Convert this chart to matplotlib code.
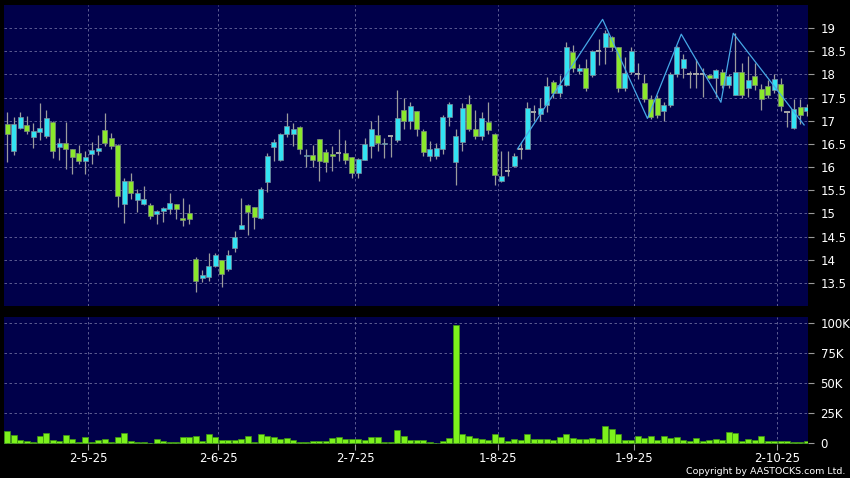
import matplotlib
matplotlib.use('Agg')
import matplotlib.pyplot as plt
import numpy as np

# daily OHLC (index 0 = first trading day shown)
opens = [16.92, 16.35, 16.85, 16.91, 16.65, 16.76, 16.67, 16.98, 16.44, 16.53,
         16.38, 16.31, 16.13, 16.29, 16.35, 16.80, 16.62, 16.47, 15.21, 15.69,
         15.29, 15.21, 15.18, 14.99, 15.05, 15.10, 15.21, 14.91, 15.00, 14.01,
         13.61, 13.62, 13.87, 14.00, 13.80, 14.26, 14.67, 15.18, 15.14, 14.89,
         15.67, 16.44, 16.15, 16.72, 16.72, 16.87, 16.23, 16.26, 16.60, 16.33,
         16.29, 16.31, 16.31, 16.21, 15.88, 16.15, 16.46, 16.69, 16.49, 16.67,
         16.59, 17.23, 17.00, 17.21, 16.77, 16.23, 16.24, 16.40, 17.09, 16.11,
         16.55, 17.36, 16.83, 16.67, 16.98, 16.71, 15.70, 15.92, 16.03, 16.40,
         16.40, 17.19, 17.15, 17.33, 17.84, 17.59, 17.77, 18.49, 18.07, 18.15,
         17.99, 18.51, 18.59, 18.80, 18.59, 17.70, 18.06, 18.02, 17.82, 17.46,
         17.50, 17.21, 17.34, 18.02, 18.14, 18.00, 18.00, 18.00, 17.99, 17.93,
         18.05, 17.77, 17.55, 18.05, 17.70, 17.96, 17.68, 17.75, 17.66, 17.80,
         17.19, 16.84, 17.30, 17.21]
highs = [17.19, 17.09, 17.20, 17.10, 16.96, 17.38, 17.23, 17.00, 16.62, 16.97,
         16.40, 16.47, 16.35, 16.54, 16.69, 17.16, 16.74, 16.50, 15.77, 15.87,
         15.52, 15.59, 15.23, 15.08, 15.14, 15.44, 15.21, 15.34, 15.20, 14.05,
         13.77, 14.15, 14.15, 14.00, 14.21, 14.62, 15.33, 15.20, 15.14, 15.58,
         16.31, 16.60, 16.74, 17.16, 16.96, 16.88, 16.40, 16.47, 16.60, 16.38,
         16.46, 16.82, 16.58, 16.21, 16.20, 16.62, 17.00, 17.12, 16.62, 16.67,
         17.66, 17.50, 17.41, 17.21, 16.82, 16.56, 16.51, 17.12, 17.41, 16.82,
         17.38, 17.55, 17.23, 17.18, 17.41, 16.74, 16.35, 16.35, 16.31, 16.53,
         17.41, 17.33, 17.50, 17.95, 17.88, 17.99, 18.71, 18.64, 18.22, 18.33,
         18.53, 18.76, 18.96, 18.82, 18.60, 18.38, 18.59, 18.24, 18.02, 17.55,
         17.55, 17.41, 18.05, 18.62, 18.44, 18.07, 18.34, 18.14, 18.00, 18.11,
         18.11, 18.00, 18.89, 18.25, 18.39, 18.25, 17.79, 17.89, 18.00, 17.93,
         17.21, 17.46, 17.46, 17.36]
lows = [16.10, 16.26, 16.83, 16.71, 16.41, 16.59, 16.62, 16.19, 16.15, 15.95,
        15.85, 16.06, 15.85, 16.06, 16.26, 16.46, 16.38, 15.14, 14.79, 15.31,
        15.03, 15.19, 14.87, 14.77, 14.82, 14.98, 14.87, 14.73, 14.78, 13.31,
        13.52, 13.54, 13.85, 13.40, 13.76, 14.17, 14.66, 14.54, 14.66, 14.87,
        15.46, 16.13, 16.13, 16.64, 16.46, 16.29, 16.00, 16.00, 15.70, 15.90,
        15.92, 16.13, 16.06, 15.77, 15.77, 16.15, 16.19, 16.35, 16.19, 16.22,
        16.54, 16.82, 16.82, 16.67, 16.23, 16.13, 16.17, 16.28, 16.89, 15.61,
        16.35, 16.78, 16.60, 16.59, 16.71, 15.61, 15.67, 15.81, 16.01, 16.17,
        16.40, 17.00, 17.00, 17.20, 17.50, 17.51, 17.75, 18.05, 18.00, 17.65,
        17.95, 18.20, 18.22, 18.50, 17.62, 17.65, 18.00, 17.90, 17.40, 17.03,
        17.05, 17.00, 17.30, 17.95, 17.93, 17.71, 17.70, 17.52, 17.90, 17.52,
        17.70, 17.70, 17.55, 17.50, 17.52, 17.66, 17.24, 17.50, 17.60, 17.21,
        16.86, 16.82, 16.93, 17.10]
closes = [16.72, 16.94, 17.08, 16.77, 16.77, 16.85, 17.07, 16.35, 16.53, 16.38,
          16.22, 16.13, 16.22, 16.36, 16.42, 16.51, 16.46, 15.38, 15.69, 15.43,
          15.45, 15.32, 14.95, 15.06, 15.12, 15.23, 15.10, 14.85, 14.87, 13.54,
          13.66, 13.87, 14.10, 13.69, 14.10, 14.50, 14.75, 15.04, 14.93, 15.52,
          16.23, 16.54, 16.72, 16.89, 16.82, 16.40, 16.27, 16.15, 16.13, 16.12,
          16.23, 16.31, 16.15, 15.88, 16.18, 16.49, 16.82, 16.53, 16.53, 16.67,
          17.07, 17.00, 17.31, 16.82, 16.33, 16.40, 16.42, 17.09, 17.36, 16.67,
          17.28, 16.83, 16.67, 17.05, 16.80, 15.83, 15.81, 15.92, 16.24, 16.40,
          17.28, 17.19, 17.28, 17.75, 17.59, 17.77, 18.59, 18.13, 18.15, 17.71,
          18.51, 18.51, 18.89, 18.59, 17.70, 18.04, 18.51, 18.02, 17.46, 17.09,
          17.12, 17.33, 18.01, 18.59, 18.34, 18.00, 18.00, 18.00, 17.93, 18.09,
          17.77, 17.96, 18.05, 17.55, 17.88, 17.77, 17.48, 17.56, 17.91, 17.32,
          17.19, 17.25, 17.12, 17.30]
# volume in thousands of shares
volumes = [10.5, 6.7, 2.5, 1.9, 0.8, 6.1, 8.9, 2.5, 1.9, 6.7,
           3.6, 0.8, 5.3, 1.4, 2.5, 3.3, 1.4, 5.6, 8.9, 1.9,
           0.8, 1.4, 0.6, 3.3, 2.2, 1.4, 1.4, 5.0, 5.0, 6.1,
           1.9, 7.8, 5.6, 2.5, 2.5, 2.5, 3.3, 6.4, 0.8, 7.8,
           6.1, 5.3, 3.9, 4.7, 2.8, 0.8, 0.8, 1.7, 2.2, 2.2,
           4.2, 5.3, 3.6, 3.6, 3.6, 2.5, 5.0, 5.6, 0.8, 0.8,
           11.0, 6.1, 2.5, 2.5, 2.5, 1.4, 0.6, 2.0, 4.2, 98.0,
           7.5, 6.1, 4.2, 3.3, 2.8, 7.5, 5.0, 1.9, 3.3, 2.8,
           7.5, 3.6, 3.6, 3.6, 2.8, 5.0, 7.5, 4.7, 3.3, 3.3,
           4.2, 3.6, 14.4, 11.7, 8.0, 2.8, 2.8, 6.1, 4.7, 6.1,
           2.8, 6.4, 4.2, 5.0, 2.8, 1.9, 4.2, 1.9, 2.8, 3.3,
           2.8, 9.7, 8.3, 1.9, 3.3, 2.8, 6.1, 2.2, 2.2, 2.2,
           1.9, 1.4, 1.4, 2.2]

# zigzag trend line (candle index, price)
zz_x = [78.5, 91.6, 98.5, 103.7, 109.8, 111.7, 122.6]
zz_y = [16.39, 19.19, 17.05, 18.87, 17.40, 18.89, 16.91]

date_pos = [12.5, 32.5, 53.5, 75.5, 96.5, 118.5]
date_labels = ['2-5-25', '2-6-25', '2-7-25', '1-8-25', '1-9-25', '2-10-25']
price_ticks = [13.5, 14, 14.5, 15, 15.5, 16, 16.5, 17, 17.5, 18, 18.5, 19]
vol_ticks = [0, 25, 50, 75, 100]
vol_labels = ['0', '25K', '50K', '75K', '100K']

NAVY = '#00004a'
CYAN = '#33e3f3'
GREEN = '#8be82c'
GRID = '#6a6a9c'

plt.rcParams['font.family'] = ['DejaVu Sans']

fig = plt.figure(figsize=(8.5, 4.78), dpi=100, facecolor='black')
ax = fig.add_axes([4 / 850, 1 - 306 / 478, 804 / 850, 301 / 478])
axv = fig.add_axes([4 / 850, 1 - 444 / 478, 804 / 850, 127 / 478])

o = np.array(opens)
h = np.array(highs)
l = np.array(lows)
c = np.array(closes)
x = np.arange(len(o))

for a in (ax, axv):
    a.set_facecolor(NAVY)
    for s in a.spines.values():
        s.set_visible(False)
    a.set_xlim(-0.5, 123.2)
    a.set_xticks(date_pos)
    a.grid(True, color=GRID, linestyle=(0, (3, 3)), linewidth=0.6)
    a.set_axisbelow(True)
    a.yaxis.tick_right()
    a.tick_params(axis='y', colors='#9a9a9a', labelcolor='white', labelsize=8.5,
                  length=4, width=0.8, pad=5)

# candles
ax.vlines(x, l, h, color='#9c9c9c', linewidth=0.9, zorder=2)
up = c > o
down = c < o
flat = c == o
ax.bar(x[up], (c - o)[up], bottom=o[up], width=0.82, color=CYAN,
       edgecolor='#7c8c9c', linewidth=0.5, zorder=3)
ax.bar(x[down], (o - c)[down], bottom=c[down], width=0.82, color=GREEN,
       edgecolor='#7c8c7c', linewidth=0.5, zorder=3)
ax.hlines(c[flat], x[flat] - 0.42, x[flat] + 0.42, color='#a8a8a8', linewidth=1.4, zorder=3)

ax.plot(zz_x, zz_y, color='#46a8e6', linewidth=0.9, zorder=4)

ax.set_ylim(13.0, 19.5)
ax.set_yticks(price_ticks)
ax.set_yticklabels(['%g' % v for v in price_ticks])
ax.tick_params(axis='x', length=0, labelbottom=False)

# volume
axv.bar(x, volumes, width=0.92, color='#7df21c', edgecolor='#3f9a10', linewidth=0.5, zorder=3)
axv.set_ylim(-0.5, 105)
axv.set_yticks(vol_ticks)
axv.set_yticklabels(vol_labels)
axv.set_xticklabels(date_labels)
axv.tick_params(axis='x', colors='#9a9a9a', labelcolor='white', labelsize=8.5,
                length=4, width=0.8, pad=2)

fig.text(845 / 850, 1 - 472 / 478, 'Copyright by AASTOCKS.com Ltd.', color='white',
         fontsize=6.8, ha='right', va='center')

fig.savefig('out.png', dpi=100, facecolor='black')
